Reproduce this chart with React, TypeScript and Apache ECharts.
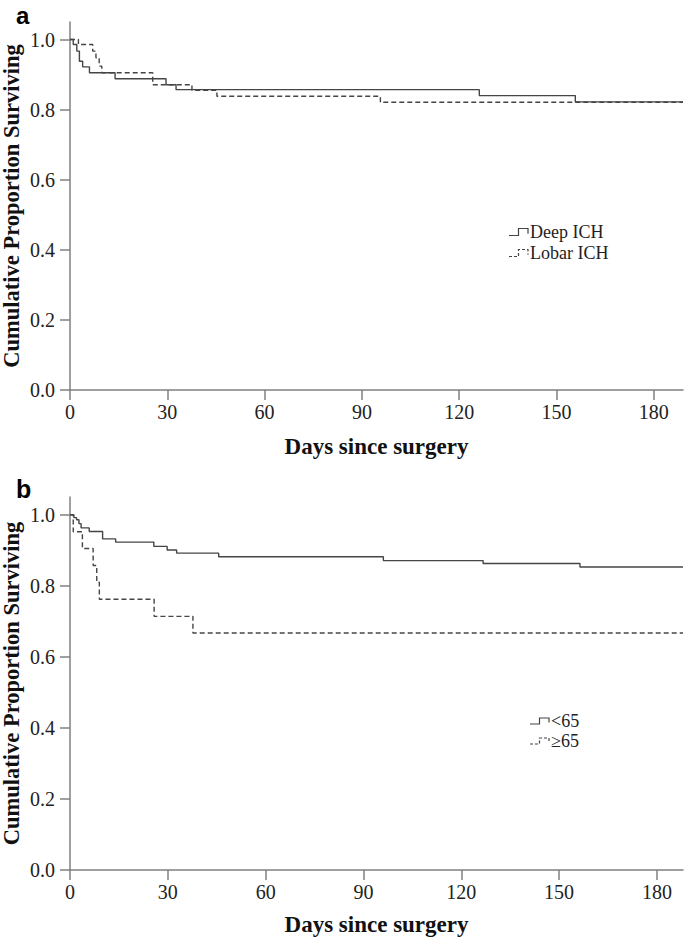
import React, { useEffect, useRef } from "react";
import * as echarts from "echarts";

// ---- Data ----
const xTicks = [0, 30, 60, 90, 120, 150, 180];
const yTicks = [0, 0.2, 0.4, 0.6, 0.8, 1.0];

// Panel a: Deep ICH vs Lobar ICH  [day, cumulative proportion surviving]
const deepICH: [number, number][] = [
  [0, 1.0], [1.0, 0.986], [2.1, 0.967], [2.9, 0.938], [3.9, 0.922], [6.0, 0.905],
  [13.9, 0.888], [29.6, 0.871], [32.7, 0.857], [126.2, 0.84], [155.8, 0.822], [189, 0.822],
];
const lobarICH: [number, number][] = [
  [0, 1.0], [2.6, 0.986], [7.0, 0.967], [8.0, 0.948], [9.0, 0.924], [9.8, 0.905],
  [25.5, 0.871], [37.6, 0.855], [45.3, 0.838], [95.7, 0.821], [189, 0.821],
];

// Panel b: age <65 vs >=65
const under65: [number, number][] = [
  [0, 1.0], [1.2, 0.992], [2.0, 0.986], [2.75, 0.975], [3.4, 0.963], [5.9, 0.953],
  [10.0, 0.932], [14.0, 0.923], [25.7, 0.911], [29.8, 0.901], [32.7, 0.892],
  [45.6, 0.882], [96.1, 0.871], [126.7, 0.863], [156.4, 0.853], [188, 0.853],
];
const over65: [number, number][] = [
  [0, 1.0], [1.0, 0.952], [3.8, 0.905], [7.1, 0.857], [8.2, 0.81], [9.0, 0.762],
  [25.8, 0.714], [37.7, 0.667], [188, 0.667],
];

const xMaxA = 189;
const xMaxB = 188;
const yMax = 1.05;

const SERIF = "Liberation Serif";
const SANS = "Liberation Sans";
const AXIS_COLOR = "#808080";
const LINE_COLOR = "#454545";

function xAxisCfg(gridIndex: number, max: number, nameGap: number) {
  return {
    type: "value",
    gridIndex,
    min: 0,
    max,
    interval: 30,
    axisLine: { show: true, lineStyle: { color: AXIS_COLOR, width: 1.5 } },
    axisTick: { show: true, length: 10, customValues: xTicks, lineStyle: { color: AXIS_COLOR, width: 1.5 } },
    axisLabel: {
      showMaxLabel: false,
      margin: 12,
      color: "#222",
      fontSize: 20,
      fontFamily: SERIF,
    },
    splitLine: { show: false },
    name: "Days since surgery",
    nameLocation: "middle",
    nameGap,
    nameMoveOverlap: false,
    nameTextStyle: { fontSize: 23, fontWeight: "bold", fontFamily: SERIF, color: "#111" },
  };
}

function yAxisCfg(gridIndex: number) {
  return {
    type: "value",
    gridIndex,
    min: 0,
    max: yMax,
    interval: 0.2,
    axisLine: { show: true, lineStyle: { color: AXIS_COLOR, width: 1.5 } },
    axisTick: { show: true, length: 10, customValues: yTicks, lineStyle: { color: AXIS_COLOR, width: 1.5 } },
    axisLabel: {
      showMaxLabel: false,
      margin: 15,
      fontSize: 20,
      fontFamily: SERIF,
      color: "#222",
      formatter: (v: number) => v.toFixed(1),
    },
    splitLine: { show: false },
    name: "Cumulative Proportion Surviving",
    nameLocation: "middle",
    nameGap: 47,
    nameMoveOverlap: false,
    nameTextStyle: { fontSize: 22.5, fontWeight: "bold", fontFamily: SERIF, color: "#111" },
  };
}

function kmSeries(name: string, data: [number, number][], idx: number, dashed: boolean) {
  return {
    name,
    type: "line",
    step: "end",
    xAxisIndex: idx,
    yAxisIndex: idx,
    data,
    symbol: "none",
    silent: true,
    lineStyle: { color: LINE_COLOR, width: 1.4, type: dashed ? [5, 3] : "solid" },
  };
}

function legendItem(x: number, y: number, h: number, w: number, label: string, dashed: boolean) {
  return [
    {
      type: "polyline",
      shape: {
        points: [
          [x, y + h / 2],
          [x + w / 2, y + h / 2],
          [x + w / 2, y - h / 2],
          [x + w, y - h / 2],
          [x + w, y + h / 4],
        ],
      },
      style: { stroke: LINE_COLOR, lineWidth: 1.2, fill: null, lineDash: dashed ? [3, 2] : null },
    },
    {
      type: "text",
      x: x + w + 2,
      y,
      style: { text: label, fontSize: 18, fontFamily: SERIF, fill: "#222", verticalAlign: "middle" },
    },
  ];
}

export default function App() {
  const ref = useRef<HTMLDivElement>(null);
  useEffect(() => {
    if (!ref.current) return;
    const chart = echarts.init(ref.current, undefined, { renderer: "svg" });
    chart.setOption({
      animation: false,
      backgroundColor: "#ffffff",
      textStyle: { fontFamily: SERIF, fontSize: 20 },
      grid: [
        { left: 70, top: 22, right: 2, height: 368, outerBoundsMode: "none", containLabel: false },
        { left: 70, top: 497, right: 2, height: 373, outerBoundsMode: "none", containLabel: false },
      ],
      xAxis: [xAxisCfg(0, xMaxA, 45), xAxisCfg(1, xMaxB, 43)],
      yAxis: [yAxisCfg(0), yAxisCfg(1)],
      series: [
        kmSeries("Deep ICH", deepICH, 0, false),
        kmSeries("Lobar ICH", lobarICH, 0, true),
        kmSeries("<65", under65, 1, false),
        kmSeries("≥65", over65, 1, true),
      ],
      graphic: [
        {
          type: "text",
          x: 16,
          y: 15,
          style: { text: "a", fontSize: 24, fontWeight: "bold", fontFamily: SANS, fill: "#000", verticalAlign: "middle" },
        },
        {
          type: "text",
          x: 16,
          y: 489,
          style: { text: "b", fontSize: 25, fontWeight: "bold", fontFamily: SANS, fill: "#000", verticalAlign: "middle" },
        },
        ...legendItem(509, 232, 7, 19, "Deep ICH", false),
        ...legendItem(509, 253, 7, 19, "Lobar ICH", true),
        ...legendItem(530, 721, 6, 19, "<65", false),
        ...legendItem(530, 741, 6, 19, "≥65", true),
      ],
    });
    return () => chart.dispose();
  }, []);
  return (
    <div
      ref={ref}
      style={{ position: "fixed", left: 0, top: 0, width: 685, height: 938, background: "#fff" }}
    />
  );
}
